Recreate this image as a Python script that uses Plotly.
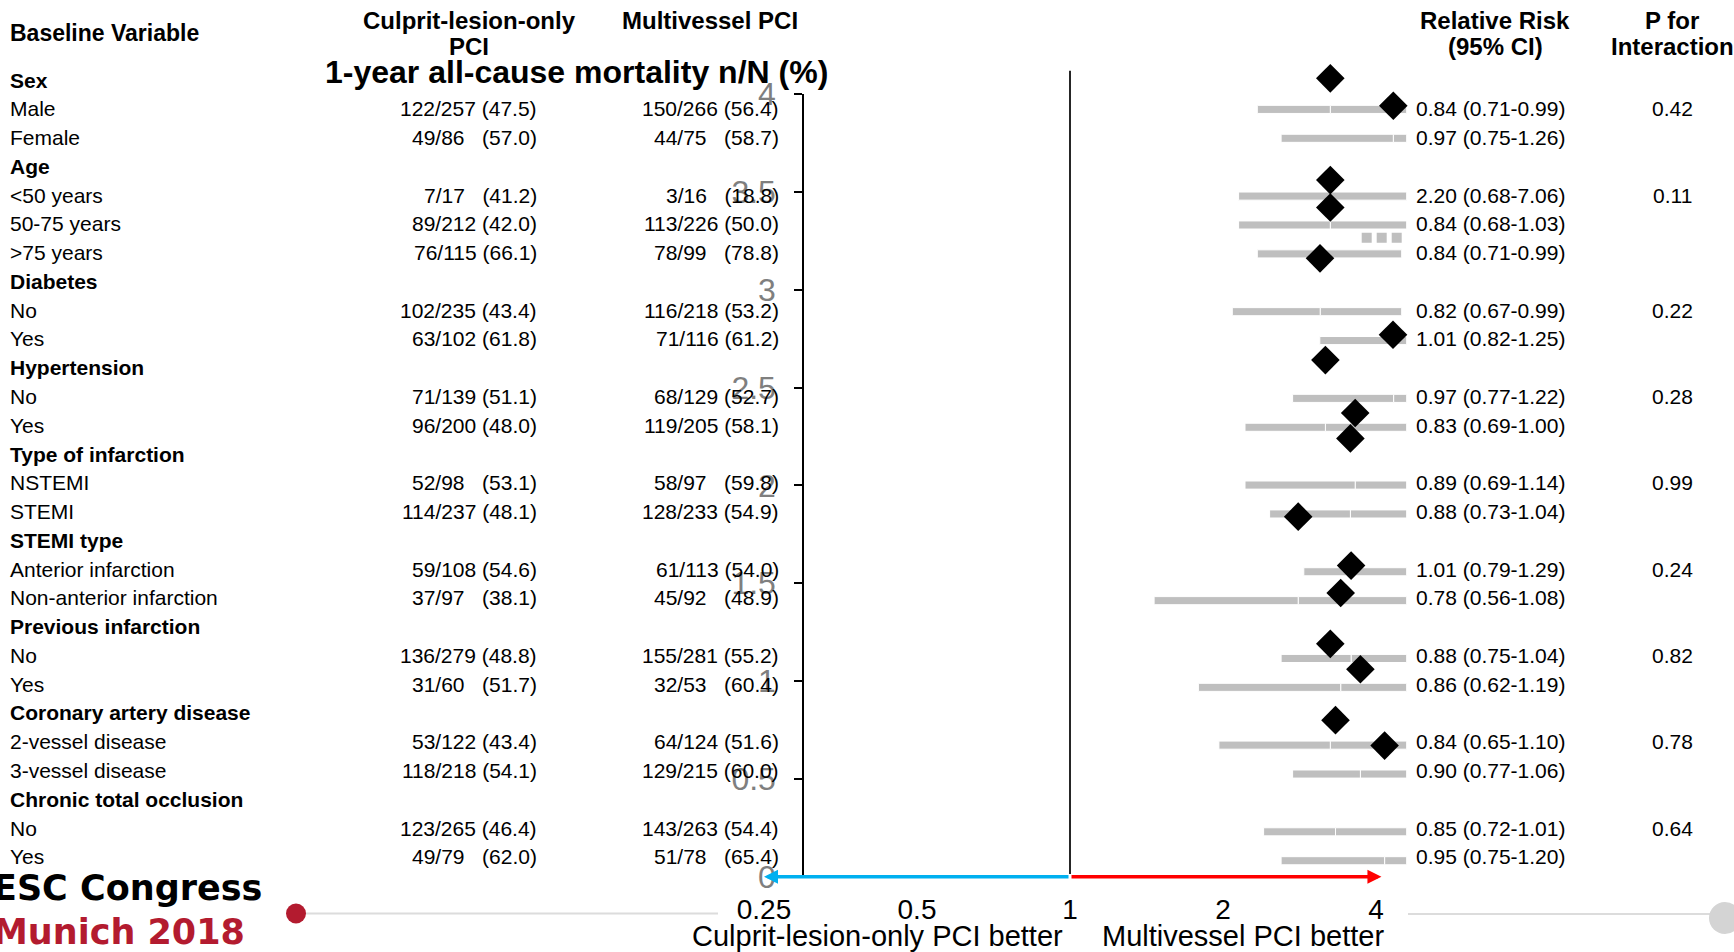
import math
import plotly.graph_objects as go

W, H = 1734, 952

# ---------------- table content ----------------
row_labels = [
    "Sex", "Male", "Female",
    "Age", "<50 years", "50-75 years", ">75 years",
    "Diabetes", "No", "Yes",
    "Hypertension", "No", "Yes",
    "Type of infarction", "NSTEMI", "STEMI",
    "STEMI type", "Anterior infarction", "Non-anterior infarction",
    "Previous infarction", "No", "Yes",
    "Coronary artery disease", "2-vessel disease", "3-vessel disease",
    "Chronic total occlusion", "No", "Yes",
]
group_rows = [0, 3, 7, 10, 13, 16, 19, 22, 25]
data_rows = [1, 2, 4, 5, 6, 8, 9, 11, 12, 14, 15, 17, 18, 20, 21, 23, 24, 26, 27]

culprit_nN = ["122/257", "49/86", "7/17", "89/212", "76/115", "102/235", "63/102",
              "71/139", "96/200", "52/98", "114/237", "59/108", "37/97", "136/279",
              "31/60", "53/122", "118/218", "123/265", "49/79"]
culprit_pct = ["47.5", "57.0", "41.2", "42.0", "66.1", "43.4", "61.8", "51.1", "48.0",
               "53.1", "48.1", "54.6", "38.1", "48.8", "51.7", "43.4", "54.1", "46.4", "62.0"]
multi_nN = ["150/266", "44/75", "3/16", "113/226", "78/99", "116/218", "71/116",
            "68/129", "119/205", "58/97", "128/233", "61/113", "45/92", "155/281",
            "32/53", "64/124", "129/215", "143/263", "51/78"]
multi_pct = ["56.4", "58.7", "18.8", "50.0", "78.8", "53.2", "61.2", "52.7", "58.1",
             "59.8", "54.9", "54.0", "48.9", "55.2", "60.4", "51.6", "60.0", "54.4", "65.4"]

rr = [0.84, 0.97, 2.20, 0.84, 0.84, 0.82, 1.01, 0.97, 0.83, 0.89, 0.88, 1.01, 0.78,
      0.88, 0.86, 0.84, 0.90, 0.85, 0.95]
rr_lo = [0.71, 0.75, 0.68, 0.68, 0.71, 0.67, 0.82, 0.77, 0.69, 0.69, 0.73, 0.79, 0.56,
         0.75, 0.62, 0.65, 0.77, 0.72, 0.75]
rr_hi = [0.99, 1.26, 7.06, 1.03, 0.99, 0.99, 1.25, 1.22, 1.00, 1.14, 1.04, 1.29, 1.08,
         1.04, 1.19, 1.10, 1.06, 1.01, 1.20]
p_interaction = ["0.42", "", "0.11", "", "", "0.22", "", "0.28", "", "0.99", "",
                 "0.24", "", "0.82", "", "0.78", "", "0.64", ""]

# ---------------- interval bars (units measured from the right end) ----------------
bar_start = [0, 0, 0, 0, 0.5, 0.5, 0, 0, 0, 0, 0, 0, 0, 0, 0, 0, 0, 0, 0]
bar_mid = [7.64, 1.34, 7.64, 7.64, 8.67, 8.65, 1.37, 1.31, 8.13, 5.15, 5.63, 5.37,
           10.85, 5.56, 6.60, 7.64, 4.63, 7.12, 2.21]
bar_end = [14.94, 12.56, 16.81, 16.81, 14.94, 17.44, 8.69, 11.41, 16.17, 16.17, 13.71,
           10.29, 25.26, 12.56, 20.83, 18.78, 11.41, 14.31, 12.56]

# short dotted stub between the age rows
dots_x = [0.5, 4.5]
dots_row = 5.44

# diamonds: which data row they belong to and their height on the 0-4 scale
diamond_idx = [0, 1, 2, 3, 4, 6, 8, 9, 10, 12, 13, 14, 15, 16, 17, 18]
diamond_y = [4.08, 3.94, 3.56, 3.42, 3.16, 2.77, 2.64, 2.37, 2.24, 1.84, 1.59, 1.45,
             1.19, 1.06, 0.80, 0.67]

# log-scale axis ticks and arrow extents
x_ticks = [0.25, 0.5, 1, 2, 4]
x_ticktext = ["0.25", "0.5", "1", "2", "4"]
arrow_ends = [0.25, 4.1]

FONT = "Liberation Sans, Arial, sans-serif"

# table rows sit on the 0-4 scale: row r -> ROW_TOP - ROW_STEP * r
ROW_TOP = 4.069
ROW_STEP = 0.14768


def row_pos(r):
    return ROW_TOP - ROW_STEP * r


fig = go.Figure()

seg_near = [m - s for m, s in zip(bar_mid, bar_start)]
seg_far = [e - m for e, m in zip(bar_end, bar_mid)]
bar_y = [row_pos(r) for r in data_rows]
bar_w = 0.28 * ROW_STEP
bar_style = dict(color="#bfbfbf", line=dict(color="white", width=1))

fig.add_trace(go.Bar(y=bar_y, x=seg_near, base=bar_start, orientation="h",
                     width=bar_w, marker=bar_style, xaxis="x2", yaxis="y",
                     hoverinfo="skip", showlegend=False))
fig.add_trace(go.Bar(y=bar_y, x=seg_far, base=bar_mid, orientation="h",
                     width=bar_w, marker=bar_style, xaxis="x2", yaxis="y",
                     hoverinfo="skip", showlegend=False))
fig.add_trace(go.Scatter(x=dots_x, y=[row_pos(dots_row)] * 2, mode="lines",
                         line=dict(color="#bfbfbf", width=10, dash="10px,5px"),
                         xaxis="x2", yaxis="y", hoverinfo="skip", showlegend=False))
# diamonds use a full-height copy of the 0-4 scale so points above 4 stay visible
fig.add_trace(go.Scatter(x=[bar_mid[i] for i in diamond_idx], y=diamond_y,
                         mode="markers", cliponaxis=False,
                         marker=dict(symbol="diamond", size=22, color="black",
                                     line=dict(width=0)),
                         xaxis="x2", yaxis="y2", hoverinfo="skip", showlegend=False))


def px(x):
    return x / W


def py(y):
    return 1 - y / H


def txt(s, x, y, size=21, anchor="left", color="black", family=FONT):
    fig.add_annotation(x=px(x), y=py(y), xref="paper", yref="paper", text=s,
                       showarrow=False, xanchor=anchor, yanchor="middle",
                       font=dict(size=size, color=color, family=family))


def row_y(r):
    return 80.0 + 28.77 * r


# column headers
txt("<b>Baseline Variable</b>", 8, 33, size=23)
txt("<b>Culprit-lesion-only</b>", 469, 20, size=24, anchor="center")
txt("<b>PCI</b>", 469, 46, size=24, anchor="center")
txt("<b>Multivessel PCI</b>", 710, 20, size=24, anchor="center")
txt("<b>1-year all-cause mortality n/N (%)</b>", 576, 72, size=32, anchor="center")
txt("<b>Relative Risk</b>", 1495, 20, size=24, anchor="center")
txt("<b>(95% CI)</b>", 1495, 46, size=24, anchor="center")
txt("<b>P for</b>", 1672, 20, size=24, anchor="center")
txt("<b>Interaction</b>", 1672, 46, size=24, anchor="center")

# row labels
for r, lab in enumerate(row_labels):
    s = f"<b>{lab}</b>" if r in group_rows else lab
    txt(s, 8, row_y(r), size=21)


def cell(nN, pct):
    pad = "\u00a0" * (3 if len(nN) <= 5 else 1)
    return f"{nN}{pad}({pct})"


for k, r in enumerate(data_rows):
    y = row_y(r)
    txt(cell(culprit_nN[k], culprit_pct[k]), 539, y, anchor="right")
    txt(cell(multi_nN[k], multi_pct[k]), 781, y, anchor="right")
    txt(f"{rr[k]:.2f} ({rr_lo[k]:.2f}-{rr_hi[k]:.2f})", 1414, y)
    if p_interaction[k]:
        txt(p_interaction[k], 1672, y, anchor="center")

# axis captions
txt("Culprit-lesion-only PCI better", 877, 936, size=29, anchor="center")
txt("Multivessel PCI better", 1243, 936, size=29, anchor="center")

# direction arrows from the line of no effect
for end, col in zip(arrow_ends, ["#00b0f0", "#ff0000"]):
    fig.add_annotation(x=math.log10(end), y=0, ax=0, ay=0, xref="x", yref="y",
                       axref="x", ayref="y", text="", showarrow=True, arrowhead=2,
                       arrowsize=0.8, arrowwidth=3.5, arrowcolor=col)

# line of no effect (RR = 1)
fig.add_shape(type="line", xref="x", yref="paper", x0=1, x1=1,
              y0=py(874), y1=py(70.7), line=dict(color="#262626", width=2))

# congress branding along the bottom
txt("<b>ESC Congress</b>", -9, 888, size=35, family="DejaVu Sans")
txt("<b>Munich 2018</b>", -9, 932, size=35, color="#b31b2f", family="DejaVu Sans")
fig.add_shape(type="line", xref="paper", yref="paper", x0=px(296), x1=px(718),
              y0=py(913.5), y1=py(913.5), line=dict(color="#dcdcdc", width=2))
fig.add_shape(type="line", xref="paper", yref="paper", x0=px(1408), x1=px(1712),
              y0=py(914), y1=py(914), line=dict(color="#dcdcdc", width=2))
fig.add_shape(type="circle", xref="paper", yref="paper", x0=px(286), x1=px(306),
              y0=py(923.5), y1=py(903.5), fillcolor="#b31b2f", line=dict(width=0))
fig.add_shape(type="circle", xref="paper", yref="paper", x0=px(1709), x1=px(1741),
              y0=py(934), y1=py(902), fillcolor="#d4d4d4", line=dict(width=0))

y_top_px, y_bot_px = 94.0, 876.7          # pixel rows of values 4 and 0
y_unit = (y_bot_px - y_top_px) / 4.0      # pixels per unit on the 0-4 scale

fig.update_layout(
    width=W, height=H,
    margin=dict(l=0, r=0, t=0, b=0, pad=0, autoexpand=False),
    paper_bgcolor="white", plot_bgcolor="rgba(0,0,0,0)",
    font=dict(family=FONT, color="black"),
    barmode="overlay", showlegend=False,
    xaxis=dict(type="log", domain=[0, 1], range=[-2.10525, 1.30645],
               anchor="free", position=0.0652,
               tickmode="array", tickvals=x_ticks, ticktext=x_ticktext,
               ticks="", showline=False, showgrid=False, zeroline=False,
               tickfont=dict(size=28, color="black")),
    xaxis2=dict(domain=[0, 1], range=[140.67, -32.73], anchor="free", position=0,
                visible=False),
    yaxis=dict(domain=[1 - y_bot_px / H, 1 - y_top_px / H], range=[0, 4],
               anchor="free", position=803.3 / W,
               tick0=0, dtick=0.5, ticks="outside", ticklen=8, tickwidth=2,
               tickcolor="black", showline=True, linecolor="black", linewidth=2,
               showgrid=False, zeroline=False, ticklabelstandoff=12,
               tickfont=dict(size=32, color="#7f7f7f")),
    yaxis2=dict(domain=[0, 1],
                range=[-(H - y_bot_px) / y_unit, y_bot_px / y_unit],
                anchor="free", position=0, visible=False),
)

fig.write_html("out.html")
